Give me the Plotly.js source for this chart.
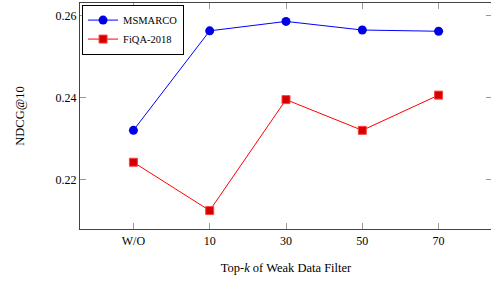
<!DOCTYPE html>
<html>
<head>
<meta charset="utf-8">
<script src="https://cdn.plot.ly/plotly-3.0.1.min.js"></script>
<style>html,body{margin:0;padding:0;background:#fff;overflow:hidden;}#chart{width:493px;height:286px;}</style>
</head>
<body>
<div id="chart"></div>
<script>
const categories = ["W/O", "10", "30", "50", "70"];
const msmarco = [0.2320, 0.2563, 0.2586, 0.2565, 0.2562];
const fiqa = [0.2242, 0.2124, 0.2395, 0.2320, 0.2406];
const yTicks = [0.22, 0.24, 0.26];
const yTickLabels = ["0.22", "0.24", "0.26"];

const xIdx = categories.map((c, i) => i);
const serif = "'Liberation Serif', 'DejaVu Serif', serif";
const font = {family: serif, size: 12, color: "#000"};

const traces = [
  {
    x: xIdx, y: msmarco, name: "MSMARCO", type: "scatter", mode: "lines+markers",
    line: {color: "#0000ff", width: 1},
    marker: {symbol: "circle", size: 9, color: "#0000e6", line: {width: 0}}
  },
  {
    x: xIdx, y: fiqa, name: "FiQA-2018", type: "scatter", mode: "lines+markers",
    line: {color: "#ff0000", width: 1},
    marker: {symbol: "square", size: 8, color: "#d40000", line: {width: 1, color: "#ff4040"}}
  }
];

const layout = {
  width: 493, height: 286,
  margin: {l: 80, r: 1, t: 2.5, b: 57},
  paper_bgcolor: "#fff", plot_bgcolor: "#fff",
  font: font,
  showlegend: true,
  legend: {
    x: 0.005, y: 0.993, xanchor: "left", yanchor: "top",
    bordercolor: "#000", borderwidth: 1, bgcolor: "#fff",
    font: {family: serif, size: 10.5, color: "#000"},
    itemwidth: 30, tracegroupgap: 0
  },
  xaxis: {
    range: [-0.7, 4.7],
    tickmode: "array", tickvals: xIdx, ticktext: categories,
    ticks: "inside", ticklen: 6, tickcolor: "#999", tickwidth: 1,
    showline: true, linecolor: "#444", linewidth: 1.2, mirror: "ticks",
    showgrid: false, zeroline: false,
    tickfont: {family: serif, size: 12},
    title: {text: "Top-<i>k</i> of Weak Data Filter", font: {family: serif, size: 12.5}, standoff: 16}
  },
  yaxis: {
    range: [0.2079, 0.2631],
    tickmode: "array", tickvals: yTicks, ticktext: yTickLabels,
    ticks: "inside", ticklen: 6, tickcolor: "#999", tickwidth: 1,
    showline: true, linecolor: "#444", linewidth: 1.2, mirror: "ticks",
    showgrid: false, zeroline: false,
    tickfont: {family: serif, size: 12},
    title: {text: "NDCG@10", font: {family: serif, size: 12.5}, standoff: 28}
  }
};

Plotly.newPlot("chart", traces, layout, {displayModeBar: false, staticPlot: true});
</script>
</body>
</html>
